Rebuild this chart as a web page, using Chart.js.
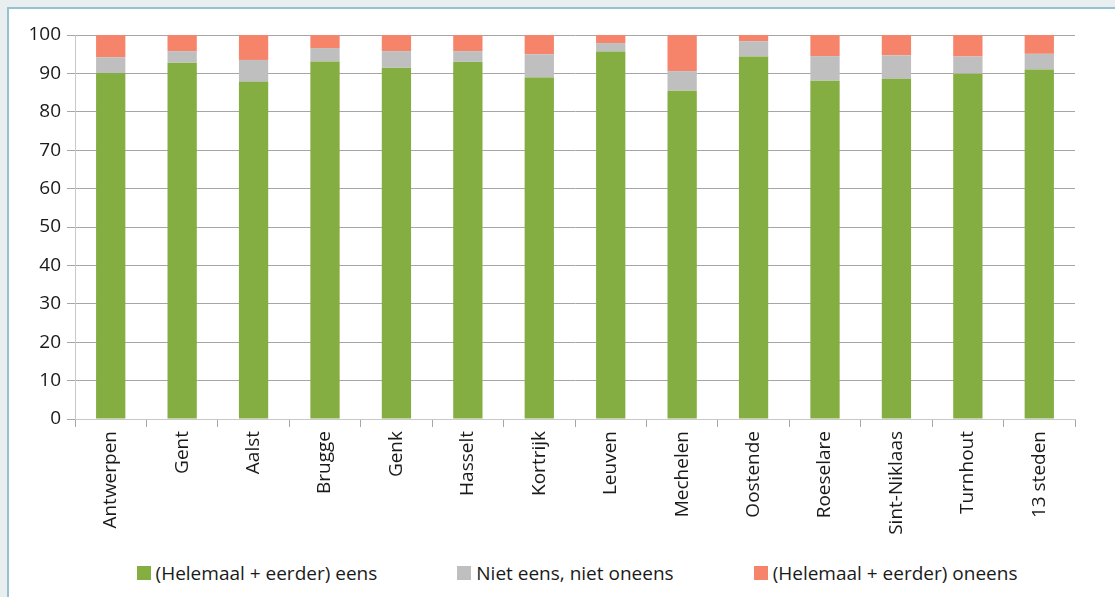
<!DOCTYPE html>
<html>
<head>
<meta charset="utf-8">
<script src="https://cdn.jsdelivr.net/npm/chart.js@4"></script>
<style>
  html, body { margin: 0; padding: 0; }
  body { width: 1115px; height: 597px; background: #e9eef1; overflow: hidden; position: relative; font-family: "Open Sans", "Noto Sans", sans-serif; }
  #frame { position: absolute; left: 7px; top: 7px; width: 1106px; height: 590px; background: #fff; border-left: 2px solid #96c1d0; border-top: 2px solid #96c1d0; }
  #wrap { position: absolute; left: 0; top: 0; width: 1106px; height: 550px; }
  #legend { position: absolute; left: 0; top: 551px; width: 1136px; display: flex; justify-content: center; gap: 80px; font-size: 19px; color: #1a1a1a; }
  #legend span.item { display: flex; align-items: center; }
  #legend i { display: inline-block; width: 14px; height: 14px; margin-right: 5px; }
</style>
</head>
<body>
<div id="frame">
  <div id="wrap"><canvas id="stedenChart"></canvas></div>
  <div id="legend"></div>
</div>
<script>
const cities = ["Antwerpen", "Gent", "Aalst", "Brugge", "Genk", "Hasselt", "Kortrijk", "Leuven", "Mechelen", "Oostende", "Roeselare", "Sint-Niklaas", "Turnhout", "13 steden"];
const eens = [90.1, 92.8, 87.8, 93.1, 91.5, 93.0, 88.9, 95.7, 85.5, 94.4, 88.1, 88.6, 89.9, 91.0];
const neutraal = [4.1, 3.0, 5.7, 3.5, 4.3, 2.8, 6.1, 2.2, 5.1, 4.0, 6.4, 6.1, 4.5, 4.1];
const oneens = [5.8, 4.2, 6.5, 3.4, 4.2, 4.2, 5.0, 2.1, 9.4, 1.6, 5.5, 5.3, 5.6, 4.9];
const seriesNames = ["(Helemaal + eerder) eens", "Niet eens, niet oneens", "(Helemaal + eerder) oneens"];
const seriesColors = ["#84ad42", "#bfbfbf", "#f5846a"];

const data_steden = {
  labels: cities,
  datasets: [eens, neutraal, oneens].map((vals, i) => ({
    label: seriesNames[i],
    data: vals,
    backgroundColor: seriesColors[i],
    borderWidth: 0,
    categoryPercentage: 1,
    barPercentage: 0.41,
  })),
};

const tickFont = { family: "'Open Sans', 'Noto Sans', sans-serif", size: 19 };

const config_steden = {
  type: "bar",
  data: data_steden,
  options: {
    responsive: true,
    maintainAspectRatio: false,
    animation: false,
    layout: { padding: { left: 0, right: 40, top: 26, bottom: 0 } },
    scales: {
      x: {
        stacked: true,
        grid: { drawOnChartArea: false, drawTicks: true, tickLength: 8, color: "#a6a6a6", offset: true },
        border: { color: "#c8c8c8" },
        ticks: { minRotation: 90, maxRotation: 90, padding: 4, color: "#1a1a1a", font: tickFont, autoSkip: false },
        afterFit: (axis) => { axis.height = 140; },
      },
      y: {
        stacked: true,
        min: 0,
        max: 100,
        grid: { color: "#a6a6a6", tickLength: 8 },
        border: { color: "#c8c8c8" },
        ticks: { stepSize: 10, padding: 6, color: "#1a1a1a", font: tickFont },
        afterFit: (axis) => { axis.width = 66; },
      },
    },
    plugins: {
      legend: { display: false },
      tooltip: { enabled: false },
    },
  },
};

const stedenChart = new Chart(document.getElementById("stedenChart"), config_steden);

// legend as html
const legendEl = document.getElementById("legend");
seriesNames.forEach((name, i) => {
  const item = document.createElement("span");
  item.className = "item";
  item.innerHTML = '<i style="background:' + seriesColors[i] + '"></i>' + name;
  legendEl.appendChild(item);
});
</script>
</body>
</html>
